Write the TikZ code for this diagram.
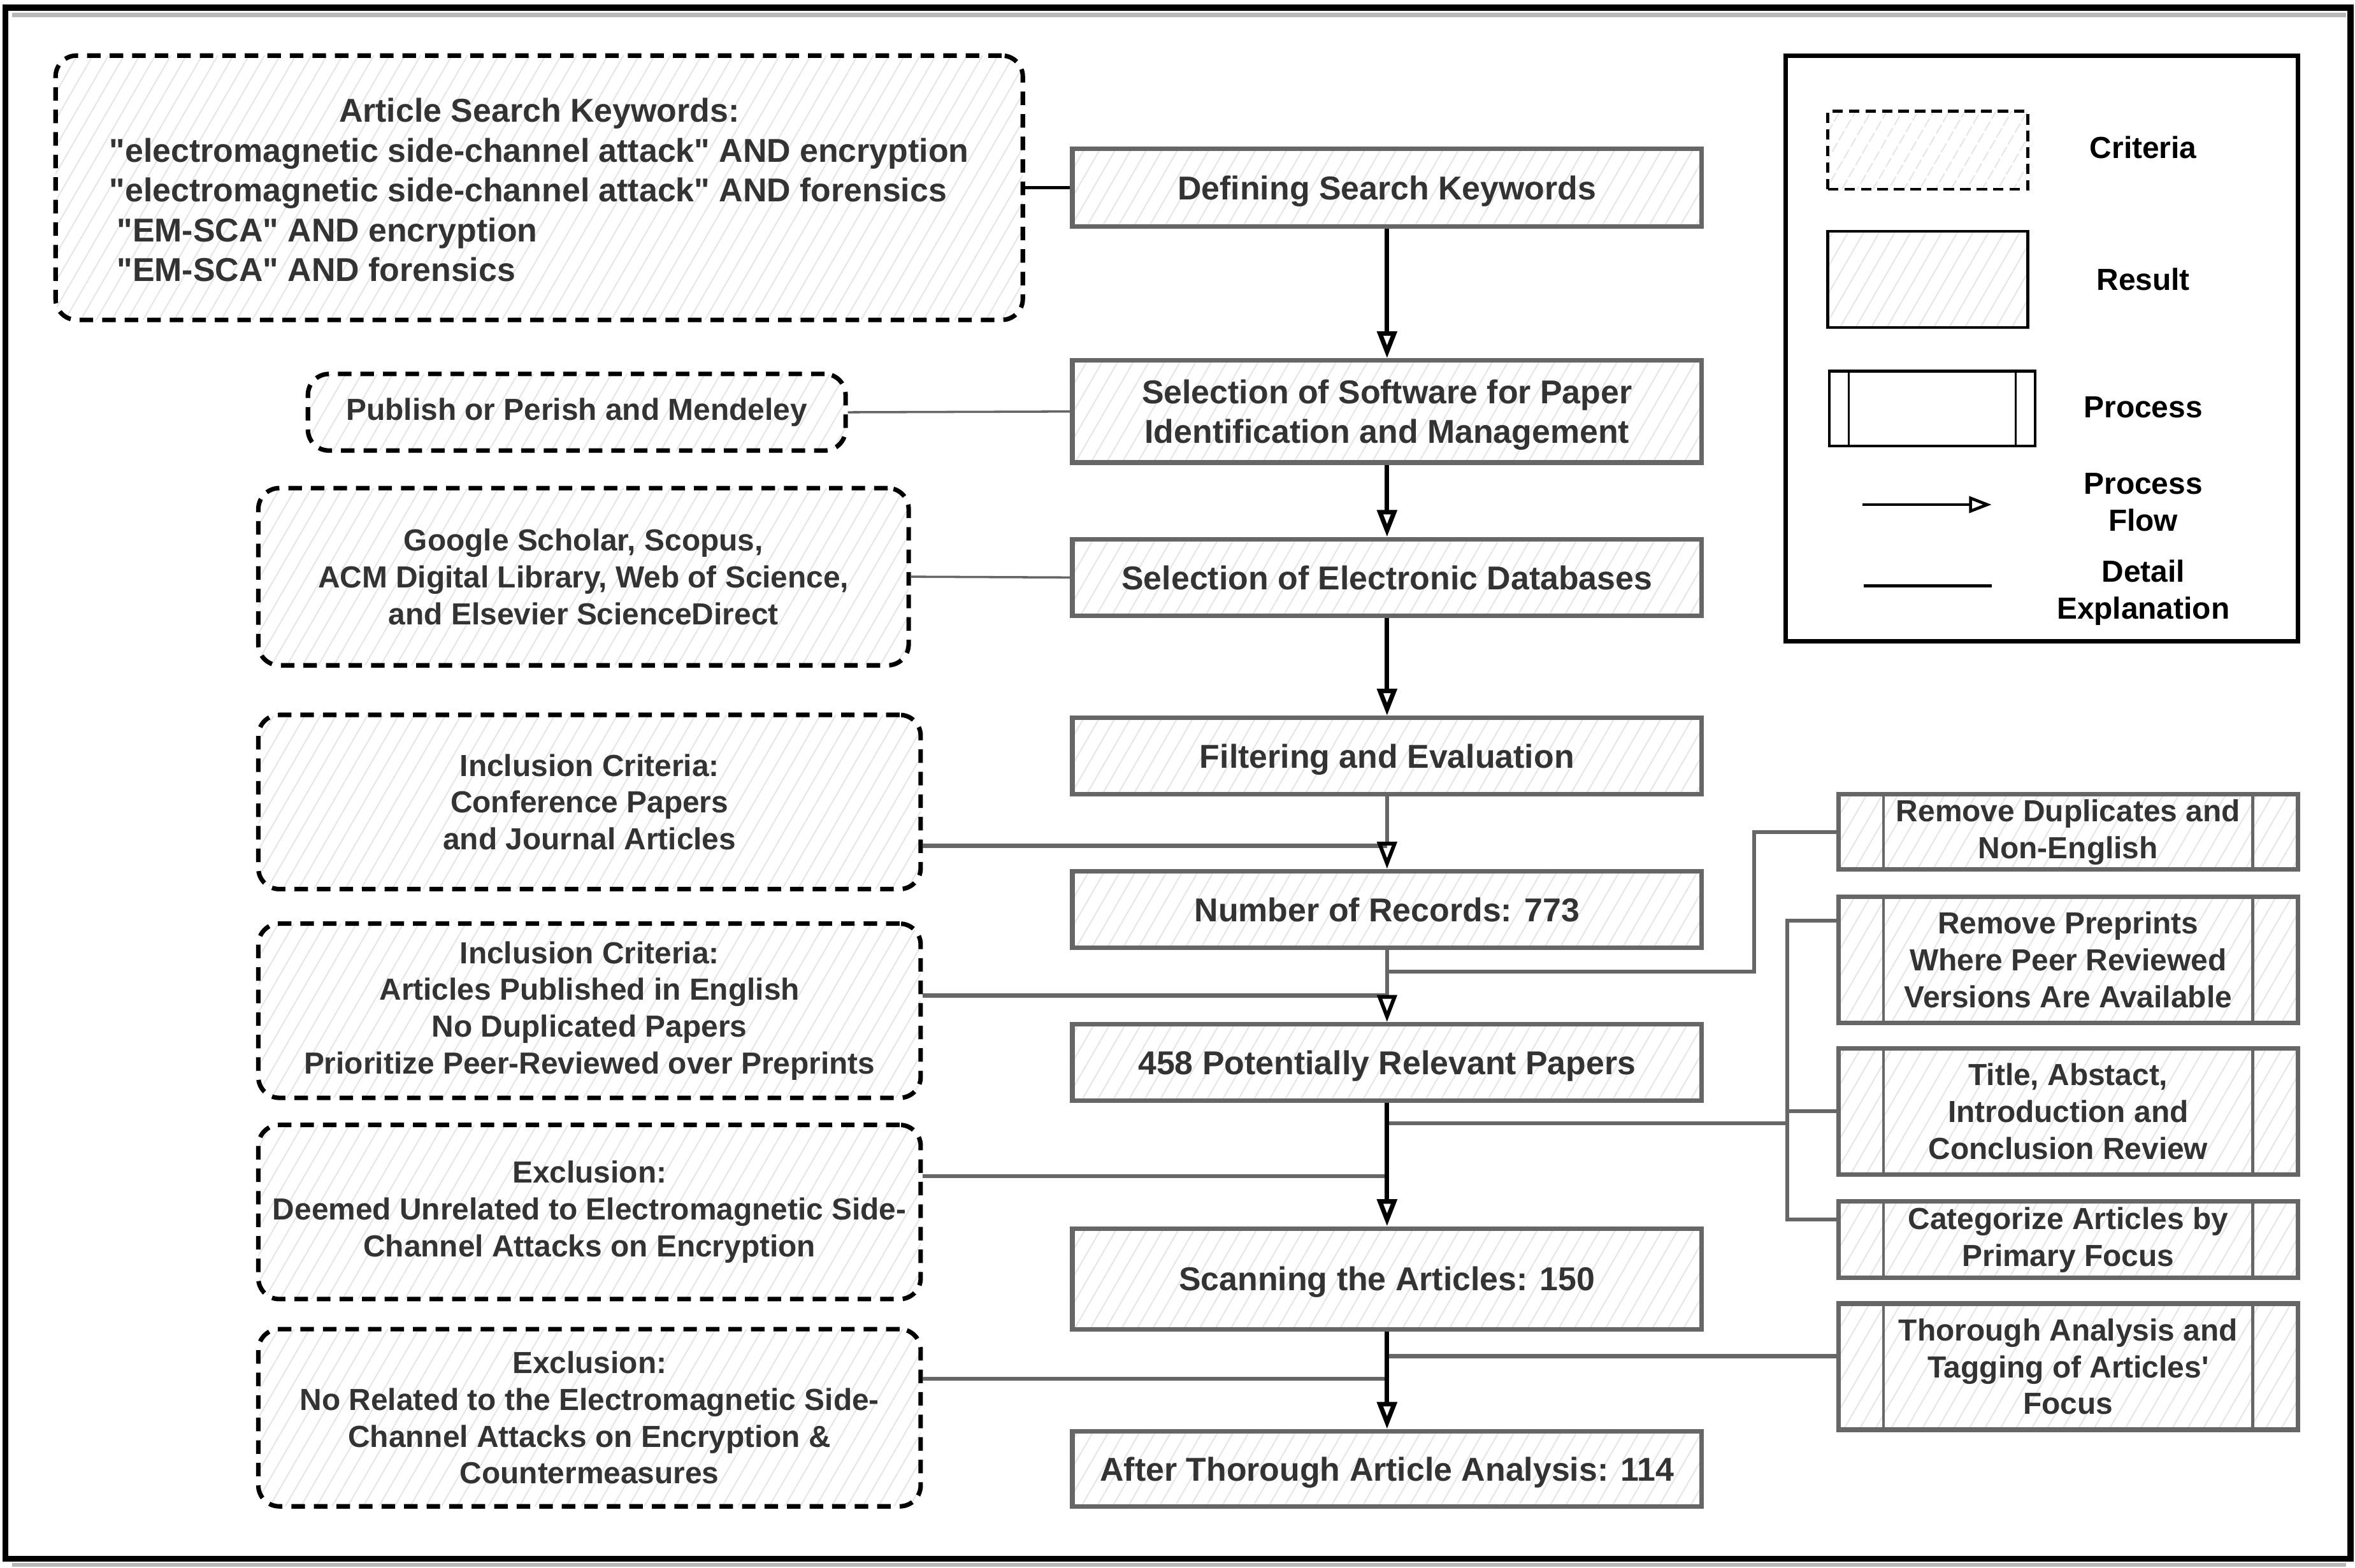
\documentclass[tikz,border=0pt]{standalone}
\usepackage{fontspec}
\setmainfont{Liberation Sans}
\usetikzlibrary{patterns.meta,arrows.meta,calc}
\definecolor{txt}{HTML}{333333}
\definecolor{edge}{HTML}{666666}
\definecolor{hatch}{HTML}{E6E6E6}
\newcommand\mybigfont{\bfseries\fontsize{22}{26.5}\selectfont}
\newcommand\mysmallfont{\bfseries\fontsize{20.3}{24.5}\selectfont}
\newcommand\qq{\textquotedbl}
\tikzset{
  hatchfill/.style={pattern={Lines[angle=60,distance=9pt,line width=0.9pt]},pattern color=hatch},
  mainbox/.style={draw=edge,line width=3pt,hatchfill,text=txt,font=\mybigfont,align=center,minimum width=419pt,inner sep=0pt,text depth=0pt},
  crit/.style={draw=black,line width=3pt,dash pattern=on 9pt off 6pt,rounded corners=14pt,hatchfill,text=txt,font=\mysmallfont,align=center,inner sep=0pt},
  proc/.style={draw=edge,line width=3pt,hatchfill,text=txt,font=\mysmallfont,align=center,minimum width=306pt,inner sep=0pt,
    path picture={\draw[edge,line width=2pt]
      ([xshift=30pt]path picture bounding box.north west) -- ([xshift=30pt]path picture bounding box.south west)
      ([xshift=-30pt]path picture bounding box.north east) -- ([xshift=-30pt]path picture bounding box.south east);}},
  legtext/.style={text=black,font=\mysmallfont,align=center,inner sep=0pt},
  flow/.style={draw=black,line width=3pt,-{Triangle[open,length=18pt,width=13pt,color=black]}},
  grayflow/.style={draw=edge,line width=2.5pt,-{Triangle[open,length=18pt,width=13pt,color=black]}},
  det/.style={draw=edge,line width=2.5pt},
}
\begin{document}
\begin{tikzpicture}[x=1pt,y=-1pt]
\useasboundingbox (0,0) rectangle (1568,1044);
% outer frame
\draw[gray!55,line width=3pt] (8,10) -- (1562,10);
\draw[gray!55,line width=2.5pt] (8,1042) -- (1562,1042);
\draw[black,line width=4pt] (3.5,5) rectangle (1565,1038);

% criteria boxes (left)
\node[crit,minimum width=644pt,minimum height=176pt,font=\mybigfont] (kw) at (359,125)
 {\raisebox{-4pt}[\height][\depth]{\begin{tabular}{@{}l@{}}\multicolumn{1}{c}{Article Search Keywords:}\\
 \qq electromagnetic side-channel attack\qq{} AND encryption\\
 \qq electromagnetic side-channel attack\qq{} AND forensics\\
 \hspace{5pt}\qq EM-SCA\qq{} AND encryption\\
 \hspace{5pt}\qq EM-SCA\qq{} AND forensics\end{tabular}}};
\node[crit,minimum width=358pt,minimum height=51pt] (pub) at (384,274.5) {Publish or Perish and Mendeley};
\node[crit,minimum width=433pt,minimum height=118pt] (gs) at (388.5,384) {Google Scholar, Scopus,\\ACM Digital Library, Web of Science,\\and Elsevier ScienceDirect};
\node[crit,minimum width=441pt,minimum height=116pt] (inc1) at (392.5,534) {Inclusion Criteria:\\Conference Papers\\and Journal Articles};
\node[crit,minimum width=441pt,minimum height=116pt] (inc2) at (392.5,673) {Inclusion Criteria:\\Articles Published in English\\No Duplicated Papers\\Prioritize Peer-Reviewed over Preprints};
\node[crit,minimum width=441pt,minimum height=116pt] (exc1) at (392.5,807) {Exclusion:\\Deemed Unrelated to Electromagnetic Side-\\Channel Attacks on Encryption};
\node[crit,minimum width=441pt,minimum height=118pt] (exc2) at (392.5,944) {Exclusion:\\No Related to the Electromagnetic Side-\\Channel Attacks on Encryption \&\\Countermeasures};

% main column
\node[mainbox,minimum height=52pt] (def) at (923.5,125) {Defining Search Keywords};
\node[mainbox,minimum height=68pt] (sw) at (923.5,274) {Selection of Software for Paper\\Identification and Management};
\node[mainbox,minimum height=51pt] (db) at (923.5,384.5) {Selection of Electronic Databases};
\node[mainbox,minimum height=51pt] (filt) at (923.5,503.5) {Filtering and Evaluation};
\node[mainbox,minimum height=51pt] (rec) at (923.5,605.5) {Number of Records: 773};
\node[mainbox,minimum height=51pt] (pot) at (923.5,707.5) {458 Potentially Relevant Papers};
\node[mainbox,minimum height=67pt] (scan) at (923.5,851.5) {Scanning the Articles: 150};
\node[mainbox,minimum height=50pt] (after) at (923.5,978) {After Thorough Article Analysis: 114};

% process boxes (right)
\node[proc,minimum height=50pt] (pd) at (1377,554) {Remove Duplicates and\\Non-English};
\node[proc,minimum height=84pt] (pp) at (1377,639) {Remove Preprints\\Where Peer Reviewed\\Versions Are Available};
\node[proc,minimum height=84pt] (ta) at (1377,740) {Title, Abstact,\\Introduction and\\Conclusion Review};
\node[proc,minimum height=51pt] (ca) at (1377,825.5) {Categorize Articles by\\Primary Focus};
\node[proc,minimum height=84pt] (th) at (1377,910) {Thorough Analysis and\\Tagging of Articles\textquotesingle\\Focus};

% junction coordinates
\coordinate (j1) at (923.5,563);
\coordinate (j2) at (923.5,663);
\coordinate (j3) at (923.5,783);
\coordinate (j4) at (923.5,918);
\coordinate (b1) at (923.5,647);
\coordinate (b2) at (923.5,748);
\coordinate (b3) at (923.5,903);
\coordinate (bus) at (1190,748);
\coordinate (bt) at (1190,613);
\coordinate (bb) at (1190,812);
\coordinate (rb) at (1168,647);

% detail connectors
\draw[black,line width=2pt] (kw.east) -- (def.west);
\draw[edge,line width=1.5pt] (pub.east) -- (sw.west);
\draw[edge,line width=1.5pt] (gs.east) -- (db.west);
\draw[det,line width=3pt] (inc1.east |- j1) -- (j1);
\draw[det,line width=3pt] (inc2.east |- j2) -- (j2);
\draw[det] (exc1.east |- j3) -- (j3);
\draw[det] (exc2.east |- j4) -- (j4);
\draw[det] (b1) -- (rb) |- (pd.west);
\draw[det] (b2) -- (bus);
\draw[det] (pp.west |- bt) -- (bt) -- (bb) -- (ca.west |- bb);
\draw[det] (bus |- ta.west) -- (ta.west);
\draw[det,line width=3pt] (b3) -- (th.west |- b3);

% process flow arrows
\draw[flow] (def) -- (sw);
\draw[flow] (sw) -- (db);
\draw[flow] (db) -- (filt);
\draw[grayflow] (filt) -- (rec);
\draw[grayflow] (rec) -- (pot);
\draw[flow] (pot) -- (scan);
\draw[flow] (scan) -- (after);

% legend
\node[draw=black,line width=3pt,minimum width=341pt,minimum height=390pt,inner sep=0pt] (legend) at (1359.5,232) {};
\node[draw=black,line width=2pt,dash pattern=on 7pt off 4pt,hatchfill,minimum width=133pt,minimum height=52pt,inner sep=0pt] (lcrit) at (1283.5,100) {};
\node[draw=black,line width=2pt,hatchfill,minimum width=133pt,minimum height=64pt,inner sep=0pt] (lres) at (1283.5,186) {};
\node[draw=black,line width=2pt,minimum width=137pt,minimum height=50pt,inner sep=0pt,
  path picture={\draw[black,line width=1.5pt]
      ([xshift=13pt]path picture bounding box.north west) -- ([xshift=13pt]path picture bounding box.south west)
      ([xshift=-13pt]path picture bounding box.north east) -- ([xshift=-13pt]path picture bounding box.south east);}] (lproc) at (1286.5,272) {};
\coordinate (la1) at (1240,336);
\coordinate (la2) at (1326,336);
\coordinate (ld1) at (1241,390);
\coordinate (ld2) at (1326,390);
\draw[black,line width=2pt,-{Triangle[open,length=15pt,width=11pt]}] (la1) -- (la2);
\draw[black,line width=2pt] (ld1) -- (ld2);
\node[legtext] (tcrit) at (1427,98) {Criteria};
\node[legtext] (tres) at (1427,186) {Result};
\node[legtext] (tproc) at (1427,271) {Process};
\node[legtext] (tflow) at (1427,334.5) {Process\\Flow};
\node[legtext] (tdet) at (1427,394.5) {Detail\\Explanation};
\end{tikzpicture}
\end{document}
